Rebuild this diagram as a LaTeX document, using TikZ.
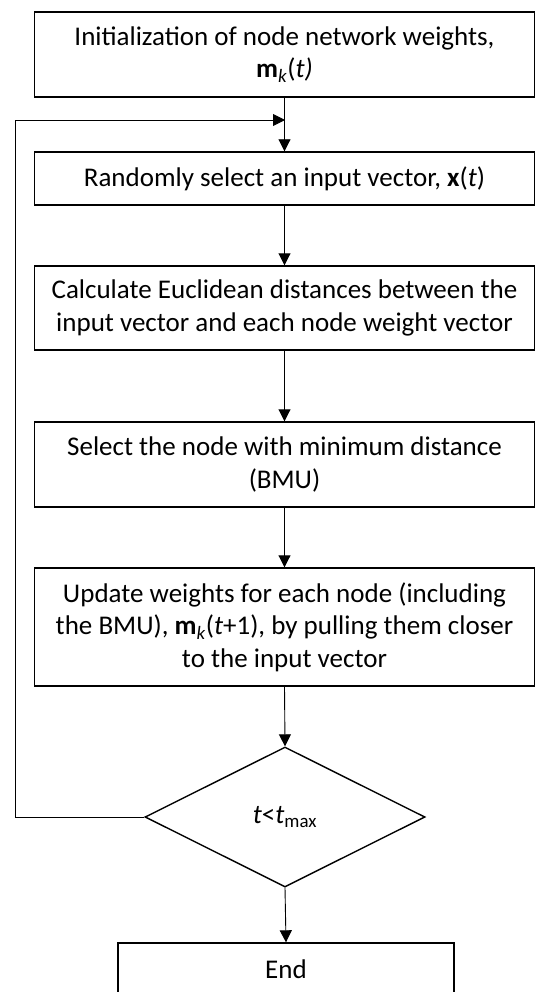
\documentclass[tikz,border=0pt]{standalone}
\usepackage{fontspec}
\setmainfont{Carlito}
\usetikzlibrary{shapes.geometric,arrows.meta}

\begin{document}
\begin{tikzpicture}[x=1pt,y=-1pt,
    procbox/.style={shape=rectangle,draw,line width=1.4pt,align=center,inner sep=0pt,minimum width=500pt},
    decision/.style={shape=diamond,draw,line width=1.4pt,inner sep=0pt,minimum width=280pt,minimum height=140pt},
    flowarrow/.style={line width=0.9pt,-{Triangle[length=12pt,width=12pt]}},
    node font=\fontsize{27}{32.5}\selectfont]
    \clip (0,0) rectangle (536,992);
    \node[procbox,minimum height=85pt]  (init)   at (284.5,54.5) {Initialization of node network weights,\\ \textbf{m}\textsubscript{\textit{k}}(\textit{t)}};
    \node[procbox,minimum height=53pt]  (select) at (284.5,178.5) {Randomly select an input vector, \textbf{x}(\textit{t})};
    \node[procbox,minimum height=84pt]  (dist)   at (284.5,308) {Calculate Euclidean distances between the\\ input vector and each node weight vector};
    \node[procbox,minimum height=85pt]  (bmu)    at (284.5,464.5) {Select the node with minimum distance\\ (BMU)};
    \node[procbox,minimum height=118pt] (update) at (284.5,627) {Update weights for each node (including\\ the BMU), \textbf{m}\textsubscript{\textit{k}}(\textit{t}+1), by pulling them closer\\ to the input vector};
    \node[decision]                     (check)  at (285,817) {\textit{t}<\textit{t}\textsubscript{max}};
    \node[procbox,minimum width=336pt,minimum height=53pt] (stop) at (286,969.5) {End};
    \coordinate (join) at (285,120);
    \coordinate (back) at (15,817);

    \draw[flowarrow] (init.south) -- (select.north);
    \draw[flowarrow] (select.south) -- (dist.north);
    \draw[flowarrow] (dist.south) -- (bmu.north);
    \draw[flowarrow] (bmu.south) -- (update.north);
    \draw[flowarrow] (update.south) -- (check.north);
    \draw[flowarrow] (check.south) -- (stop.north);
    \draw[flowarrow] (check.west) -- (back) |- (join);
\end{tikzpicture}
\end{document}
